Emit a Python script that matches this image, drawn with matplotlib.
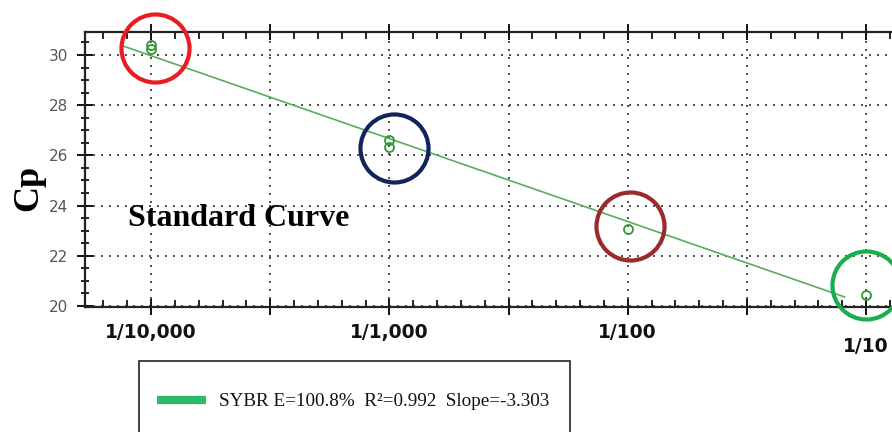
import matplotlib
matplotlib.use("Agg")
import matplotlib.pyplot as plt
import numpy as np
from matplotlib.transforms import ScaledTranslation
from matplotlib.patches import Rectangle
from matplotlib.lines import Line2D

# ---- data ----
dilution_log = [-4, -4, -3, -3, -2, -1]          # log10 of dilution
cp_values = [30.40, 30.25, 26.60, 26.35, 23.05, 20.45]
tick_positions = [-4, -3, -2, -1]
tick_labels = ["1/10,000", "1/1,000", "1/100", "1/10"]
fit_slope = -3.303
fit_intercept = 16.76
fit_range = [-4.12, -1.09]
highlight_x = [-3.985, -2.98, -1.99, -1.0]
highlight_y = [30.26, 26.30, 23.20, 20.84]
highlight_colors = ["#e81c22", "#13235e", "#9b2a2a", "#1aae4c"]
legend_text = "SYBR E=100.8%  R²=0.992  Slope=-3.303"

W, H = 892, 432
fig = plt.figure(figsize=(W / 100, H / 100), dpi=100)
ax = fig.add_axes([85 / W, 1 - 307 / H, 1 - 85 / W, (307 - 32) / H])

ax.set_xlim(-4.277, -0.891)
ax.set_ylim(19.96, 30.916)

# grid
xt = np.arange(-4, -0.99, 0.5)
ax.set_xticks(xt)
ax.set_xticks(np.arange(-4.2, -0.89, 0.1), minor=True)
ax.set_yticks(np.arange(20, 31, 2))
ax.set_yticks(np.arange(20, 31, 0.5), minor=True)
ax.grid(True, which="major", color="#333333", linestyle=(0, (1.2, 3.6)), linewidth=1.2)

# labels only at decades
labels = []
for v in xt:
    if abs(v - round(v)) < 1e-6:
        labels.append(tick_labels[tick_positions.index(int(round(v)))])
    else:
        labels.append("")
ax.set_xticklabels(labels, fontsize=13.5, fontweight="bold", color="#111111",
                   family="DejaVu Sans")
ax.set_yticklabels([str(v) for v in range(20, 31, 2)], fontsize=11,
                   color="#555555", family="DejaVu Sans")

ax.tick_params(axis="x", which="major", direction="inout", length=11, width=1.3,
               top=True, pad=6)
ax.tick_params(axis="x", which="minor", direction="in", length=5, width=1.2, top=True)
ax.tick_params(axis="y", which="major", direction="inout", length=12, width=1.3, pad=6)
ax.tick_params(axis="y", which="minor", direction="inout", length=6, width=1.2)

for s in ["left", "bottom", "top"]:
    ax.spines[s].set_linewidth(1.6)
    ax.spines[s].set_color("#222222")
ax.spines["right"].set_visible(False)

# shift last tick label down like the reference
for t in ax.get_xticklabels():
    if t.get_text() == "1/10":
        t.set_transform(t.get_transform() + ScaledTranslation(0, -10 / 72, fig.dpi_scale_trans))

# fit line
fx = np.array(fit_range)
ax.plot(fx, fit_intercept + fit_slope * fx, color="#5aac5a", linewidth=1.2, zorder=3)

# data points
ax.plot(dilution_log, cp_values, linestyle="none", marker="o", markersize=6.5,
        markerfacecolor="none", markeredgecolor="#2e9a33", markeredgewidth=1.3, zorder=4)

# highlight circles
for hx, hy, hc in zip(highlight_x, highlight_y, highlight_colors):
    ax.plot([hx], [hy], linestyle="none", marker="o", markersize=49,
            markerfacecolor="none", markeredgecolor=hc, markeredgewidth=3,
            zorder=5, clip_on=False)

# texts
ax.set_ylabel("Cp", fontsize=26, fontweight="bold", family="Liberation Serif")
ax.yaxis.set_label_coords(-(85 - 45) / (W - 85), (307 - 188) / (307 - 32))
fig.text(128 / W, 1 - 218 / H, "Standard Curve", fontsize=23, fontweight="bold",
         family="Liberation Serif", va="center", ha="left")

# legend box
fig.add_artist(Rectangle((139 / W, -0.05), (570 - 139) / W, 1 - 361 / H + 0.05,
                         transform=fig.transFigure, facecolor="white",
                         edgecolor="#222222", linewidth=1.2))
fig.add_artist(Line2D([157 / W, 206 / W], [1 - 400 / H, 1 - 400 / H],
                      transform=fig.transFigure, color="#2dba6a", linewidth=6,
                      solid_capstyle="butt"))
fig.text(219 / W, 1 - 401 / H, legend_text, fontsize=13.8, family="Liberation Serif",
         va="center", ha="left", color="#111111")

fig.savefig("out.png", dpi=100)
